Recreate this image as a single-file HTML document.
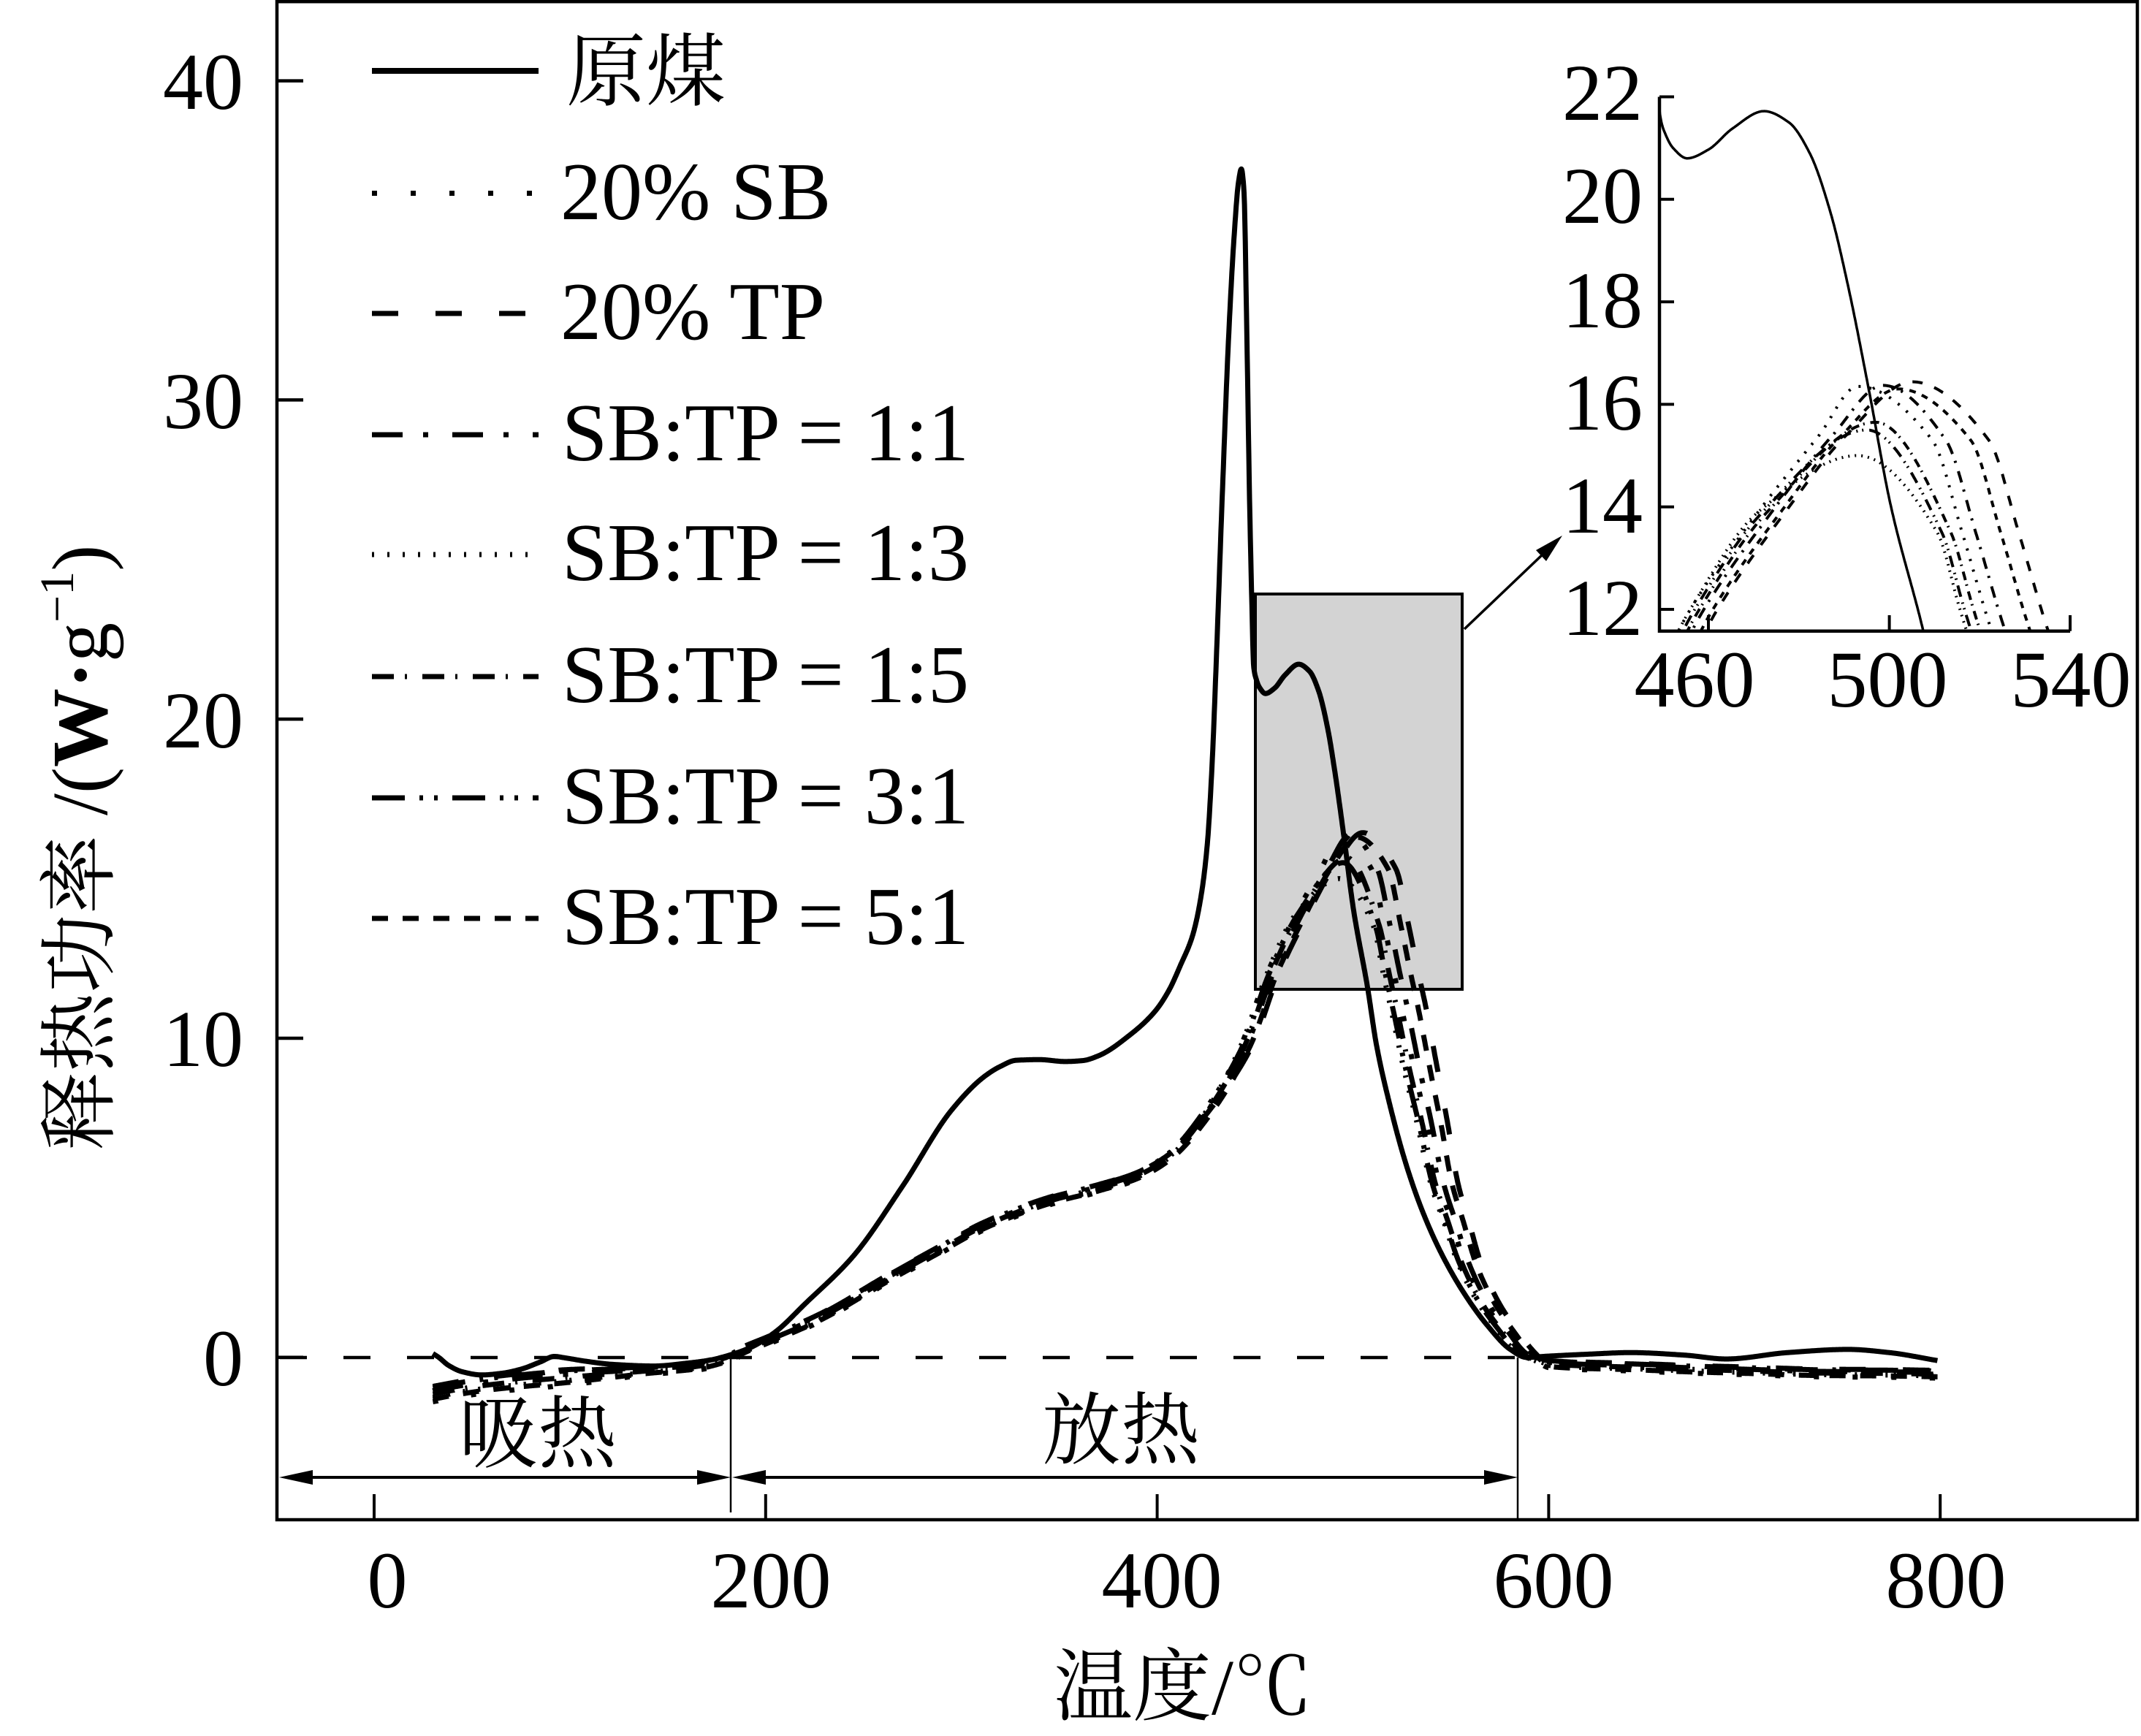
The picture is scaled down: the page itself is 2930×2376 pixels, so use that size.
<!DOCTYPE html>
<html>
<head>
<meta charset="utf-8">
<style>
html,body{margin:0;padding:0;background:#fff;}
svg{display:block;}
text{font-family:"Liberation Serif","Noto Serif CJK SC",serif;fill:#000;}
.cjk{font-family:"Noto Serif CJK SC","Liberation Serif",serif;}
</style>
</head>
<body>
<svg id="s" width="2930" height="2376" viewBox="0 0 2930 2376" xmlns="http://www.w3.org/2000/svg">
<defs>
<clipPath id="ci"><rect x="2271" y="140" width="562" height="723.7"/></clipPath>
</defs>
<rect width="2930" height="2376" fill="#fff"/>

<!-- shaded zoom region -->
<rect x="1718" y="813" width="283" height="541" fill="#d3d3d3" stroke="#000" stroke-width="4"/>

<!-- zero dashed line -->
<line x1="383" y1="1858" x2="2077" y2="1858" stroke="#000" stroke-width="4.5" stroke-dasharray="37 50"/>

<g id="mainCurves"></g>

<!-- vertical separators -->
<line x1="1000" y1="1851" x2="1000" y2="2070" stroke="#000" stroke-width="2.5"/>
<line x1="2077" y1="1858" x2="2077" y2="2079" stroke="#000" stroke-width="2.5"/>

<!-- double arrows -->
<line x1="420" y1="2022" x2="960" y2="2022" stroke="#000" stroke-width="4"/>
<polygon points="382,2022 428,2012 428,2032" fill="#000"/>
<polygon points="1000,2022 954,2012 954,2032" fill="#000"/>
<line x1="1040" y1="2022" x2="2040" y2="2022" stroke="#000" stroke-width="4"/>
<polygon points="1002,2022 1048,2012 1048,2032" fill="#000"/>
<polygon points="2077,2022 2031,2012 2031,2032" fill="#000"/>

<text class="cjk" x="736" y="2000" font-size="108" text-anchor="middle">吸热</text>
<text class="cjk" x="1534" y="1995" font-size="108" text-anchor="middle">放热</text>

<!-- pointer arrow to inset -->
<line x1="2004" y1="861" x2="2112" y2="758" stroke="#000" stroke-width="3.5"/>
<polygon points="2138,733 2116,768 2102,753" fill="#000"/>

<!-- main frame -->
<rect x="379" y="2.2" width="2546" height="2077.8" fill="none" stroke="#000" stroke-width="4.5"/>

<!-- y ticks -->
<g stroke="#000" stroke-width="4.5">
<line x1="379" y1="1857.8" x2="415" y2="1857.8"/>
<line x1="379" y1="1421" x2="415" y2="1421"/>
<line x1="379" y1="984.2" x2="415" y2="984.2"/>
<line x1="379" y1="547.4" x2="415" y2="547.4"/>
<line x1="379" y1="110.6" x2="415" y2="110.6"/>
</g>
<!-- x ticks -->
<g stroke="#000" stroke-width="4">
<line x1="512" y1="2080" x2="512" y2="2045"/>
<line x1="1047.8" y1="2080" x2="1047.8" y2="2045"/>
<line x1="1583.6" y1="2080" x2="1583.6" y2="2045"/>
<line x1="2119.4" y1="2080" x2="2119.4" y2="2045"/>
<line x1="2655.2" y1="2080" x2="2655.2" y2="2045"/>
</g>

<!-- y tick labels -->
<g font-size="110" text-anchor="end">
<text x="333" y="1896">0</text>
<text x="333" y="1459">10</text>
<text x="333" y="1023">20</text>
<text x="333" y="586">30</text>
<text x="333" y="149">40</text>
</g>
<!-- x tick labels -->
<g font-size="110" text-anchor="middle">
<text x="530" y="2200">0</text>
<text x="1055" y="2200">200</text>
<text x="1590" y="2200">400</text>
<text x="2126" y="2200">600</text>
<text x="2663" y="2200">800</text>
</g>

<!-- axis titles -->
<text x="1442" y="2346" font-size="108"><tspan class="cjk">温度</tspan>/<tspan class="cjk">℃</tspan></text>
<text transform="translate(146,1575) rotate(-90)" font-size="108"><tspan class="cjk">释热功率</tspan> /(<tspan font-weight="bold">W·</tspan>g<tspan font-size="66" dy="-46">−1</tspan><tspan dy="46">)</tspan></text>

<!-- legend -->
<g fill="none" stroke="#000">
<line x1="509" y1="97" x2="737" y2="97" stroke-width="8"/>
<line x1="509" y1="264.5" x2="740" y2="264.5" stroke-width="7" stroke-dasharray="7 46"/>
<line x1="509" y1="429" x2="737" y2="429" stroke-width="7" stroke-dasharray="36 51"/>
<line x1="509" y1="595" x2="737" y2="595" stroke-width="7" stroke-dasharray="42 28 7 33"/>
<line x1="509" y1="759" x2="737" y2="759" stroke-width="7" stroke-dasharray="3 18"/>
<line x1="509" y1="926" x2="737" y2="926" stroke-width="7" stroke-dasharray="30 15 3 21"/>
<line x1="509" y1="1092" x2="737" y2="1092" stroke-width="7" stroke-dasharray="45 20 5 15 5 20"/>
<line x1="509" y1="1257" x2="737" y2="1257" stroke-width="7" stroke-dasharray="22 20"/>
</g>
<text class="cjk" x="775" y="136" font-size="109">原煤</text>
<g font-size="112">
<text x="767" y="300">20% SB</text>
<text x="767" y="464">20% TP</text>
<text x="769" y="630">SB:TP = 1:1</text>
<text x="769" y="794">SB:TP = 1:3</text>
<text x="769" y="961">SB:TP = 1:5</text>
<text x="769" y="1127">SB:TP = 3:1</text>
<text x="769" y="1292">SB:TP = 5:1</text>
</g>

<!-- inset -->
<g id="insetCurves" clip-path="url(#ci)"></g>
<g stroke="#000" stroke-width="4.5" fill="none">
<polyline points="2271,132.5 2271,863.7 2833,863.7"/>
</g>
<g stroke="#000" stroke-width="4">
<line x1="2271" y1="834" x2="2291" y2="834"/>
<line x1="2271" y1="693.7" x2="2291" y2="693.7"/>
<line x1="2271" y1="553.4" x2="2291" y2="553.4"/>
<line x1="2271" y1="413.1" x2="2291" y2="413.1"/>
<line x1="2271" y1="272.8" x2="2291" y2="272.8"/>
<line x1="2271" y1="132.5" x2="2291" y2="132.5"/>
<line x1="2338" y1="863.7" x2="2338" y2="842"/>
<line x1="2585.6" y1="863.7" x2="2585.6" y2="842"/>
<line x1="2833" y1="863.7" x2="2833" y2="842"/>
</g>
<g font-size="110" text-anchor="end">
<text x="2248" y="869">12</text>
<text x="2248" y="729">14</text>
<text x="2248" y="588">16</text>
<text x="2248" y="448">18</text>
<text x="2248" y="305">20</text>
<text x="2248" y="164">22</text>
</g>
<g font-size="110" text-anchor="middle">
<text x="2319" y="967">460</text>
<text x="2583" y="967">500</text>
<text x="2834" y="967">540</text>
</g>
</svg>

<script>
(function(){
var NS="http://www.w3.org/2000/svg";
function X(t){return 512+2.679*t;}
function Y(v){return 1857.8-43.68*v;}
function XI(t){return 2338+6.19*(t-460);}
function YI(v){return 834-70.15*(v-12);}
function mono(P){
 var n=P.length,x=P.map(function(p){return p[0];}),y=P.map(function(p){return p[1];}),d=[],m=new Array(n),i;
 for(i=0;i<n-1;i++)d.push((y[i+1]-y[i])/(x[i+1]-x[i]));
 m[0]=d[0];m[n-1]=d[n-2];
 for(i=1;i<n-1;i++){
  if(d[i-1]*d[i]<=0)m[i]=0;
  else{var h0=x[i]-x[i-1],h1=x[i+1]-x[i],w1=2*h1+h0,w2=h1+2*h0;m[i]=(w1+w2)/(w1/d[i-1]+w2/d[i]);}
 }
 var f=function(t){
  if(t<=x[0])return y[0]; if(t>=x[n-1])return y[n-1];
  var lo=0,hi=n-1;while(hi-lo>1){var mid=(lo+hi)>>1;if(x[mid]<=t)lo=mid;else hi=mid;}
  var h=x[hi]-x[lo],s=(t-x[lo])/h,s2=s*s,s3=s2*s;
  return (2*s3-3*s2+1)*y[lo]+(s3-2*s2+s)*h*m[lo]+(-2*s3+3*s2)*y[hi]+(s3-s2)*h*m[hi];
 };
 f.t0=x[0];f.t1=x[n-1];
 return f;
}
function pathFor(f,t0,t1,step,FX,FY){
 var d="",t;
 for(t=t0;t<=t1+1e-9;t+=step){d+=(d?"L":"M")+FX(t).toFixed(1)+" "+FY(f(t)).toFixed(1);}
 return d;
}
function add(parent,d,w,dash){
 var p=document.createElementNS(NS,"path");
 p.setAttribute("d",d);p.setAttribute("fill","none");p.setAttribute("stroke","#000");
 p.setAttribute("stroke-width",w);p.setAttribute("stroke-linejoin","round");
 if(dash)p.setAttribute("stroke-dasharray",dash);
 parent.appendChild(p);
}
var R=[[30,0.12],[33,0.0],[38,-0.25],[45,-0.45],[55,-0.55],[65,-0.5],[75,-0.37],[85,-0.14],[92,0.03],[98,-0.02],[108,-0.12],[122,-0.22],[143,-0.27],[160,-0.18],[172,-0.08],[182,0.08],[192,0.3],[205,0.8],[220,1.67],[245,3.19],[270,5.37],[295,7.75],[311.5,8.79],[320,9.12],[328,9.31],[340,9.33],[353,9.27],[362,9.3],[370,9.45],[386,10.1],[399,10.85],[406,11.5],[412,12.3],[418,13.2],[422,14.3],[425.5,16.0],[428,18.5],[430,21.5],[433.2,26.9],[436.6,32.1],[439.5,35.3],[441.5,36.8],[443,37.24],[444.3,36.6],[445.8,32.1],[447.2,26.9],[448.3,23.8],[449.3,21.65],[450.6,21.25],[452.2,21.0],[455.3,20.8],[460,20.97],[465.3,21.38],[472.3,21.72],[477.8,21.5],[482.4,20.9],[487,19.74],[490.9,18.3],[495.5,16.27],[500.2,14.07],[507.5,11.58],[512,9.8],[518.7,7.95],[527,6.08],[535.4,4.6],[545.4,3.23],[557,1.99],[568.7,1.0],[580.4,0.25],[588.7,0.0],[600,0.04],[620,0.1],[641.7,0.15],[669.6,0.07],[690.6,-0.05],[722,0.15],[753,0.25],[774,0.15],[798.6,-0.1]];
var A=[[30,-1.15],[45,-0.98],[60,-0.85],[100,-0.62],[140,-0.42],[165,-0.28],[180,-0.05],[190,0.25],[200,0.5],[228,1.25],[262,2.45],[287,3.3],[311,4.1],[345,4.9],[370,5.3],[390,5.7],[406,6.3],[425,7.7],[444,9.8],[457,12.0],[472,13.9],[485.5,15.4]];
var M=[[507,15.3],[513.6,13.5],[518.6,12],[522,11.05],[528.8,9.06],[535.4,7.33],[542,5.47],[548.7,4.23],[555.5,2.98],[565.5,1.74],[575.5,0.87],[585.6,0.13],[592,-0.05]];
var T=[[600,-0.2],[620,-0.27],[640,-0.3],[670,-0.37],[700,-0.42],[740,-0.49],[770,-0.5],[800,-0.53]];
var curves=[
 {s:2.5,a:-1,pk:[493,16.35],dv:-0.12,dash:"7 46",idash:"3 12"},
 {s:15,a:5,pk:[505,16.44],dv:0.12,dash:"36 51",idash:"14 17"},
 {s:5.5,a:2,pk:[498.6,16.37],dv:0.05,dash:"42 28 7 33",idash:"16 10 3 12"},
 {s:-3,a:-1,pk:[493,15.0],dv:-0.05,dash:"3 18",idash:"2 7"},
 {s:0,a:1,pk:[497,15.65],dv:0,dash:"30 15 3 21",idash:"12 6 2 8"},
 {s:-2,a:0,pk:[495,15.5],dv:0.1,dash:"45 20 5 15 5 20",idash:"16 8 2 6 2 8"},
 {s:11,a:4,pk:[502,16.3],dv:-0.08,dash:"22 20",idash:"9 9"}
];
function build(c){
 var pts=[],i,t,v,k,g,tt;
 for(i=0;i<A.length;i++){
  t=A[i][0];v=A[i][1];
  if(v>c.pk[1]-0.4&&t>470)continue;
  k=Math.min(1,Math.max(0,(v-5)/5));
  tt=t+c.a*k;
  var j=t<430?c.dv*(t<120?2:1):0;
  pts.push([tt,v+j]);
 }
 pts.push([c.pk[0],c.pk[1]]);
 for(i=0;i<M.length;i++){
  t=M[i][0];v=M[i][1];
  g=v<=0?0.3:0.5+0.5*Math.min(1,v/10);
  tt=t+c.s*g;
  if(tt<=c.pk[0]+2)continue;
  if(v>c.pk[1]-0.5)continue;
  pts.push([tt,v]);
 }
 for(i=0;i<T.length;i++)pts.push([T[i][0],T[i][1]+c.dv]);
 pts.sort(function(a,b){return a[0]-b[0];});
 var out=[];
 for(i=0;i<pts.length;i++){if(out.length&&pts[i][0]-out[out.length-1][0]<0.3)continue;out.push(pts[i]);}
 return out;
}
var gm=document.getElementById("mainCurves"),gi=document.getElementById("insetCurves");
var fr=mono(R);
curves.forEach(function(c){
 var f=mono(build(c));
 add(gm,pathFor(f,f.t0,f.t1,0.25,X,Y),7,c.dash);
 add(gi,pathFor(f,449,545,0.1,XI,YI),4,c.idash);
});
add(gm,pathFor(fr,fr.t0,fr.t1,0.2,X,Y),7,null);
add(gi,pathFor(fr,449.2,545,0.1,XI,YI),3.5,null);
})();
</script>
</body>
</html>
